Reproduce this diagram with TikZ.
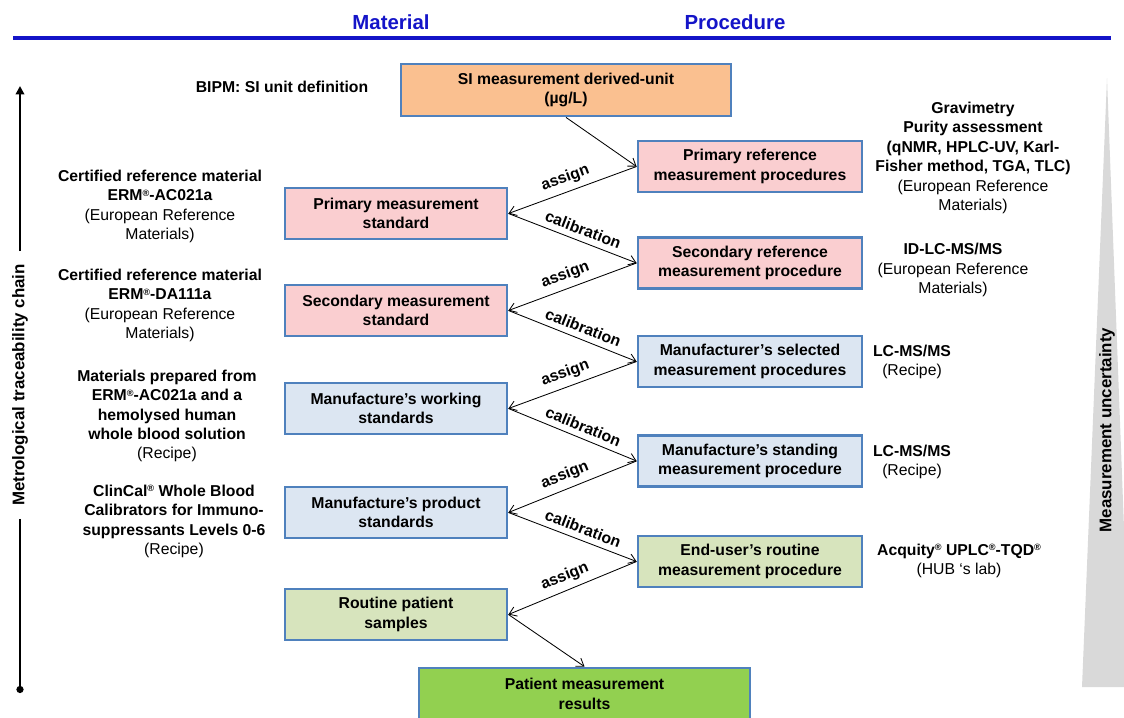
\documentclass[tikz,border=0pt]{standalone}
\usepackage{fontspec}
\setmainfont{Liberation Sans}
\usepackage{xcolor}
\usetikzlibrary{arrows.meta}

\definecolor{boxblue}{RGB}{79,129,189}
\definecolor{headblue}{RGB}{20,20,200}
\definecolor{siorange}{RGB}{250,192,144}
\definecolor{refpink}{RGB}{250,206,208}
\definecolor{manblue}{RGB}{220,230,242}
\definecolor{userlime}{RGB}{215,228,189}
\definecolor{resgreen}{RGB}{146,208,80}
\definecolor{uncgray}{RGB}{217,217,217}

\newcommand{\regmark}{\raisebox{0.55ex}{\fontsize{6.5}{6.5}\selectfont ®}}

\begin{document}
\begin{tikzpicture}[x=0.025cm,y=-0.025cm,
		head/.style={text=headblue,font=\fontsize{14.5}{17}\selectfont\bfseries},
		box/.style={draw=boxblue,line width=2pt,minimum width=5.55cm,minimum height=1.275cm,align=center,inner sep=2pt,font=\fontsize{11.2}{13.8}\selectfont\bfseries},
		procbox/.style={box,minimum width=5.6cm},
		note/.style={align=center,inner sep=1pt,font=\fontsize{11.2}{13.8}\selectfont},
		side/.style={font=\fontsize{12}{14}\selectfont\bfseries},
		flow/.style={-{Straight Barb[length=5pt,width=7pt]},line width=0.6pt},
		lbl/.style={sloped,above=3pt,inner sep=1pt,font=\fontsize{11.2}{13.8}\selectfont\bfseries}]
		
		\useasboundingbox (0,0) rectangle (1124,717);
		
		\node[head] (Material) at (391,22) {Material};
		\node[head] (Procedure) at (735,22) {Procedure};
		\draw[headblue,line width=2.2pt] (13,38) -- (1111,38);
		
		\fill[uncgray] (1107,78) -- (1082,687) -- (1130,687) -- cycle;
		\node[side,rotate=90] (Uncertainty) at (1107,430) {Measurement uncertainty};
		
		\node[side,rotate=90,inner xsep=9pt] (TraceChain) at (20,385) {Metrological traceability chain};
		\coordinate (ChainTop) at (20,86);
		\coordinate (ChainEnd) at (20,693);
		\draw[line width=1.8pt,-{Triangle[length=6pt,width=6pt]}] (TraceChain.east) -- (ChainTop);
		\draw[line width=1.8pt,-{Circle[length=5pt]}] (TraceChain.west) -- (ChainEnd);
		
		\node[box,fill=siorange,minimum width=8.25cm,minimum height=1.3cm] (SIUnit) at (566,90) {SI measurement derived-unit\\(µg/L)};
		
		\node[procbox,fill=refpink] (PrimRefProc) at (750,166.5) {Primary reference\\measurement procedures};
		\node[procbox,fill=refpink] (SecRefProc) at (750,263) {Secondary reference\\measurement procedure};
		\node[procbox,fill=manblue] (ManSelProc) at (750,361.5) {Manufacturer’s selected\\measurement procedures};
		\node[procbox,fill=manblue] (ManStandProc) at (750,461) {Manufacture’s standing\\measurement procedure};
		\node[procbox,fill=userlime] (EndUserProc) at (750,561.5) {End-user’s routine\\measurement procedure};
		
		\node[box,fill=refpink] (PrimStd) at (396,213.5) {Primary measurement\\standard};
		\node[box,fill=refpink] (SecStd) at (396,310.5) {Secondary measurement\\standard};
		\node[box,fill=manblue] (ManWorkStd) at (396,408.5) {Manufacture’s working\\standards};
		\node[box,fill=manblue] (ManProdStd) at (396,512.5) {Manufacture’s product\\standards};
		\node[box,fill=userlime] (PatientSamples) at (396,614.5) {Routine patient\\samples};
		
		\node[box,fill=resgreen,minimum width=8.275cm,minimum height=1.3cm] (PatientResults) at (584.5,694) {Patient measurement\\results};
		
		\node[note] (BIPMNote) at (282,87) {\textbf{BIPM: SI unit definition}};
		\node[note] (CRMNote1) at (160,206.5) {\textbf{Certified reference material}\\\textbf{ERM\regmark-AC021a}\\(European Reference\\Materials)};
		\node[note] (CRMNote2) at (160,305.5) {\textbf{Certified reference material}\\\textbf{ERM\regmark-DA111a}\\(European Reference\\Materials)};
		\node[note] (PrepNote) at (167,416) {\textbf{Materials prepared from}\\\textbf{ERM\regmark-AC021a and a}\\\textbf{hemolysed human}\\\textbf{whole blood solution}\\(Recipe)};
		\node[note] (ClinCalNote) at (174,521.5) {\textbf{ClinCal\regmark\ Whole Blood}\\\textbf{Calibrators for Immuno-}\\\textbf{suppressants Levels 0-6}\\(Recipe)};
		
		\node[note] (GravNote) at (973,158) {\textbf{Gravimetry}\\\textbf{Purity assessment}\\\textbf{(qNMR, HPLC-UV, Karl-}\\\textbf{Fisher method, TGA, TLC)}\\(European Reference\\Materials)};
		\node[note] (IDNote) at (953,270) {\textbf{ID-LC-MS/MS}\\(European Reference\\Materials)};
		\node[note] (LCNote1) at (912,362) {\textbf{LC-MS/MS}\\(Recipe)};
		\node[note] (LCNote2) at (912,462) {\textbf{LC-MS/MS}\\(Recipe)};
		\node[note] (AcqNote) at (959,561) {\textbf{Acquity\regmark\ UPLC\regmark-TQD\regmark}\\(HUB ‘s lab)};
		
		\draw[flow] (SIUnit.south) -- (PrimRefProc.west);
		\foreach \proc/\std in {PrimRefProc/PrimStd,SecRefProc/SecStd,ManSelProc/ManWorkStd,ManStandProc/ManProdStd,EndUserProc/PatientSamples}{
			\draw[flow] (\proc.west) -- node[lbl,pos=0.52]{assign} (\std.east);
		}
		\foreach \std/\proc in {PrimStd/SecRefProc,SecStd/ManSelProc,ManWorkStd/ManStandProc,ManProdStd/EndUserProc}{
			\draw[flow] (\std.east) -- node[lbl,pos=0.55]{calibration} (\proc.west);
		}
		\draw[flow] (PatientSamples.east) -- (PatientResults.north);
		
	\end{tikzpicture}
\end{document}
